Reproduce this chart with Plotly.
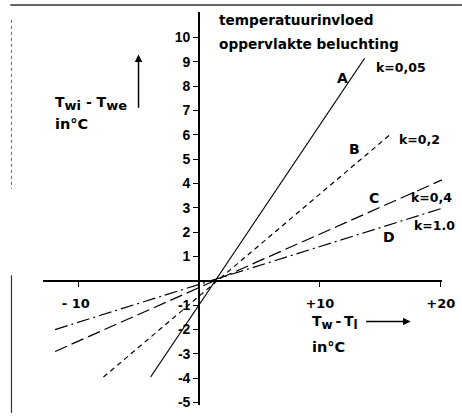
import plotly.graph_objects as go

# ---- data ----
line_names = ["A", "B", "C", "D"]
k_labels = ["k=0,05", "k=0,2", "k=0,4", "k=1.0"]
A_x = [-4.0, 13.7]
A_y = [-3.95, 9.15]
B_x = [-7.9, 15.9]
B_y = [-3.95, 6.05]
C_x = [-11.9, 20.1]
C_y = [-2.9, 4.15]
D_x = [-11.9, 20.2]
D_y = [-2.0, 3.0]

x_tickvals = [-10, 10, 20]
x_ticktext = ["- 10&nbsp;", "+10", "+20"]
y_tickvals = [-5, -4, -3, -2, -1, 1, 2, 3, 4, 5, 6, 7, 8, 9, 10]
y_ticktext = [str(v) for v in y_tickvals]

# label positions (data coords)
name_pos = [(11.9, 8.33), (12.9, 5.41), (14.5, 3.41), (15.7, 1.79)]
k_pos = [(14.45, 8.78), (16.4, 5.81), (17.4, 3.41), (17.6, 2.28)]

xr = [-12.9, 20.1]
yr = [-5.1, 11.05]

FONT = "DejaVu Sans"
TICKFONT = "Liberation Sans"
fig = go.Figure()

styles = [
    ("solid", 1.2),
    ("5px,4px", 1.2),
    ("13px,5px", 1.2),
    ("13px,4px,2px,4px", 1.2),
]
for (xs, ys), (dash, w) in zip([(A_x, A_y), (B_x, B_y), (C_x, C_y), (D_x, D_y)], styles):
    fig.add_trace(go.Scatter(x=xs, y=ys, mode="lines",
                             line=dict(color="black", width=w, dash=dash),
                             showlegend=False, hoverinfo="skip"))


def tfont(size):
    return dict(family=FONT, size=size, color="black", weight="bold")


ann = []
for n, (px, py) in zip(line_names, name_pos):
    ann.append(dict(x=px, y=py, text=n, showarrow=False, xanchor="center", yanchor="middle",
                    font=tfont(14)))
for k, (px, py) in zip(k_labels, k_pos):
    ann.append(dict(x=px, y=py, text=k, showarrow=False, xanchor="left", yanchor="middle",
                    font=tfont(12.5)))

# titles
ann.append(dict(x=1.45, y=10.73, text="temperatuurinvloed", showarrow=False, xanchor="left",
                yanchor="middle", font=tfont(13.7)))
ann.append(dict(x=1.45, y=9.72, text="oppervlakte beluchting", showarrow=False, xanchor="left",
                yanchor="middle", font=tfont(13.7)))

SUB = '<sub><span style="font-size:13px">%s</span></sub>'
# y axis label
ann.append(dict(x=-12.1, y=7.28, text="T" + SUB % "wi" + " - T" + SUB % "we", showarrow=False,
                xanchor="left", yanchor="middle", font=tfont(14)))
ann.append(dict(x=-12.1, y=6.46, text="in°C", showarrow=False, xanchor="left",
                yanchor="middle", font=tfont(14.5)))
ann.append(dict(x=-5.0, y=9.3, ax=-5.0, ay=7.05, xref="x", yref="y", axref="x", ayref="y",
                text="", showarrow=True, arrowhead=2, arrowsize=1, arrowwidth=1.5, arrowcolor="black"))

# x axis label
SUBX = '<sub><span style="font-size:12px">%s</span></sub>'
ann.append(dict(x=9.2, y=-1.71, text="T" + SUBX % "w" + "\u2009-\u2009T" + SUBX % "l", showarrow=False,
                xanchor="left", yanchor="middle", font=tfont(14)))
ann.append(dict(x=9.2, y=-2.72, text="in°C", showarrow=False, xanchor="left",
                yanchor="middle", font=tfont(14.5)))
ann.append(dict(x=17.5, y=-1.67, ax=13.7, ay=-1.67, xref="x", yref="y", axref="x", ayref="y",
                text="", showarrow=True, arrowhead=2, arrowsize=1, arrowwidth=1.5, arrowcolor="black"))

# scanned page frame lines
shapes = [
    dict(type="line", xref="paper", yref="paper", x0=-0.082, x1=1.05, y0=1.0176, y1=1.0176,
         line=dict(color="#333", width=1.5)),
    dict(type="line", xref="paper", yref="paper", x0=-0.079, x1=-0.079, y0=0.98, y1=0.55,
         line=dict(color="#666", width=1, dash="3px,3px")),
    dict(type="line", xref="paper", yref="paper", x0=-0.079, x1=-0.079, y0=0.33, y1=-0.02,
         line=dict(color="#333", width=1.2)),
]

xpos = (0 - xr[0]) / (xr[1] - xr[0])
ypos = (0 - yr[0]) / (yr[1] - yr[0])

fig.update_layout(
    width=462, height=417,
    margin=dict(l=43, r=16, t=12, b=7),
    paper_bgcolor="white", plot_bgcolor="white",
    xaxis=dict(range=xr, anchor="free", position=ypos, showgrid=False, zeroline=False,
               showline=True, linecolor="black", linewidth=1.6,
               tickmode="array", tickvals=x_tickvals, ticktext=x_ticktext,
               ticks="outside", ticklen=5, tickwidth=1.2, tickcolor="black",
               ticklabelstandoff=6, ticklabeloverflow="allow",
               tickfont=dict(family=FONT, size=13, color="black", weight="bold")),
    yaxis=dict(range=yr, anchor="free", position=xpos, showgrid=False, zeroline=False,
               showline=True, linecolor="black", linewidth=1.6,
               tickmode="array", tickvals=y_tickvals, ticktext=y_ticktext,
               ticks="outside", ticklen=5, tickwidth=1.2, tickcolor="black",
               tickfont=dict(family=TICKFONT, size=14, color="black", weight="bold")),
    annotations=ann,
    shapes=shapes,
)

fig.write_html("out.html")
